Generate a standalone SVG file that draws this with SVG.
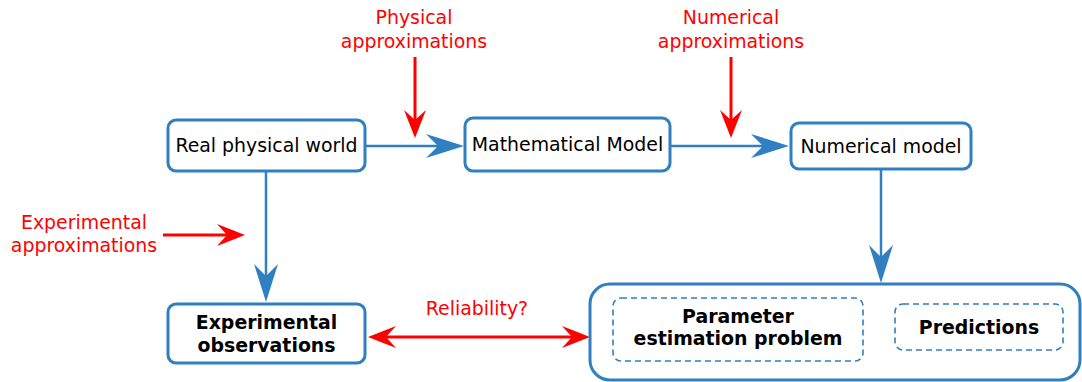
<svg xmlns="http://www.w3.org/2000/svg" width="1082" height="382" viewBox="0 0 1082 382">
<style>
.box{fill:#fff;stroke:#2f7fc1;stroke-width:3}
.dash{fill:none;stroke:#2f7fc1;stroke-width:1.6;stroke-dasharray:6,4}
.t{font-family:"DejaVu Sans",sans-serif;font-size:18.9px;fill:#000;text-anchor:middle}
.b{font-weight:bold}
.r{font-family:"DejaVu Sans",sans-serif;font-size:18.9px;fill:#ff0000;text-anchor:middle}
.bl{stroke:#2f7fc1;stroke-width:2.5;fill:none}
.rl{stroke:#ff0000;stroke-width:3;fill:none}
</style>
<defs>
<marker id="ab" markerUnits="userSpaceOnUse" markerWidth="60" markerHeight="40" refX="-26" refY="0" orient="auto" overflow="visible" viewBox="-40 -20 60 40">
<path d="M0,0 L-38,-12 L-26,0 L-38,12 Z" fill="#2f7fc1"/>
</marker>
<marker id="ar" markerUnits="userSpaceOnUse" markerWidth="60" markerHeight="40" refX="-18" refY="0" orient="auto-start-reverse" overflow="visible" viewBox="-40 -20 60 40">
<path d="M0,0 L-28,-11 L-18,0 L-28,11 Z" fill="#ff0000"/>
</marker>
</defs>
<g id="connectors">
<line class="bl" x1="366" y1="146" x2="438" y2="146" marker-end="url(#ab)"/>
<line class="bl" x1="670" y1="146" x2="763" y2="146" marker-end="url(#ab)"/>
<line class="bl" x1="266" y1="171" x2="266" y2="276" marker-end="url(#ab)"/>
<line class="bl" x1="881" y1="169" x2="881" y2="257" marker-end="url(#ab)"/>
<line class="rl" x1="415" y1="57" x2="415" y2="120" marker-end="url(#ar)"/>
<line class="rl" x1="731" y1="57" x2="731" y2="120" marker-end="url(#ar)"/>
<line class="rl" x1="163" y1="235" x2="227" y2="235" marker-end="url(#ar)"/>
<line class="rl" x1="386" y1="337" x2="572" y2="337" marker-start="url(#ar)" marker-end="url(#ar)"/>
</g>
<g id="label-physical">
<text class="r" x="414" y="24">Physical</text>
<text class="r" x="414" y="48">approximations</text>
</g>
<g id="label-numerical">
<text class="r" x="731" y="24">Numerical</text>
<text class="r" x="731" y="48">approximations</text>
</g>
<g id="label-experimental">
<text class="r" x="84" y="229">Experimental</text>
<text class="r" x="84" y="252">approximations</text>
</g>
<g id="label-reliability">
<text class="r" x="477" y="315">Reliability?</text>
</g>
<g id="real-world">
<rect class="box" x="168" y="120" width="197" height="51" rx="8"/>
<text class="t" x="266.5" y="152">Real physical world</text>
</g>
<g id="math-model">
<rect class="box" x="465" y="118" width="205" height="53" rx="8"/>
<text class="t" x="567.5" y="151">Mathematical Model</text>
</g>
<g id="numerical-model">
<rect class="box" x="791" y="123" width="180" height="46" rx="8"/>
<text class="t" x="881" y="153">Numerical model</text>
</g>
<g id="experimental-observations">
<rect class="box" x="168" y="304" width="197" height="59" rx="8"/>
<text class="t b" x="266.5" y="329">Experimental</text>
<text class="t b" x="266.5" y="352">observations</text>
</g>
<g id="container">
<rect class="box" x="590" y="284" width="490" height="96" rx="20"/>
</g>
<g id="parameter-estimation">
<rect class="dash" x="613" y="298" width="250" height="63" rx="8"/>
<text class="t b" x="738" y="323">Parameter</text>
<text class="t b" x="738" y="345">estimation problem</text>
</g>
<g id="predictions">
<rect class="dash" x="895" y="304" width="168" height="46" rx="8"/>
<text class="t b" x="979" y="334">Predictions</text>
</g>
</svg>
